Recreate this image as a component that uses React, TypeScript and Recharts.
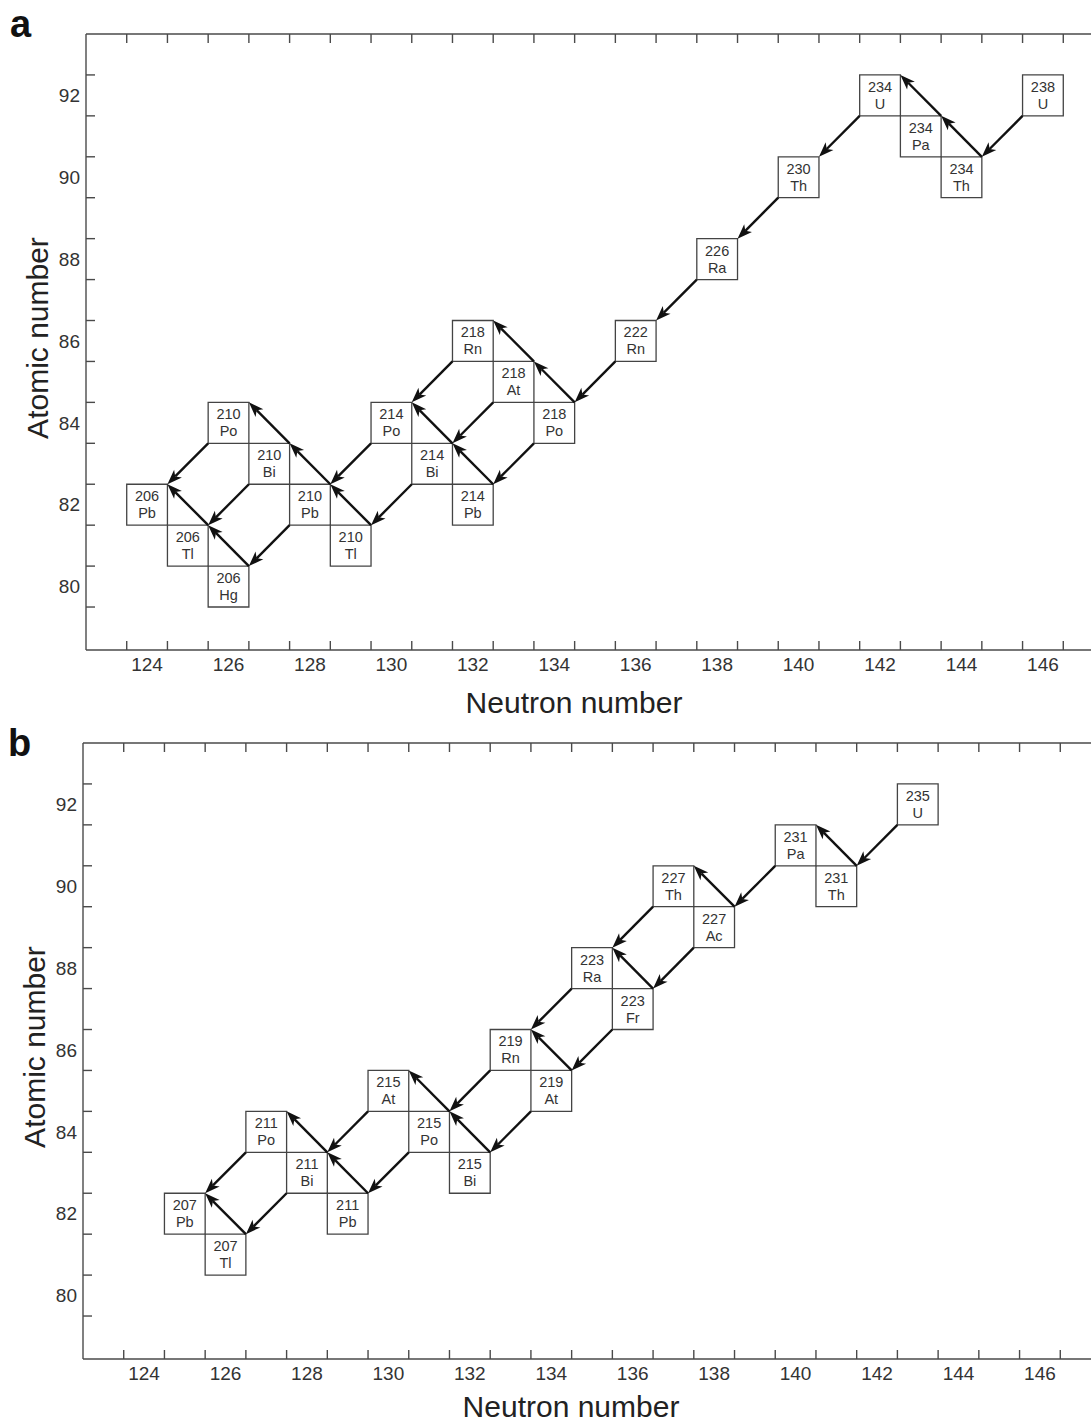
import React from 'react';
import { ScatterChart, Scatter, XAxis, YAxis, ReferenceArea, ReferenceLine, Label } from 'recharts';

// U-238 decay chain (panel a)
const uraniumChain = [
  { mass: 238, el: 'U', n: 146, z: 92 },
  { mass: 234, el: 'Th', n: 144, z: 90 },
  { mass: 234, el: 'Pa', n: 143, z: 91 },
  { mass: 234, el: 'U', n: 142, z: 92 },
  { mass: 230, el: 'Th', n: 140, z: 90 },
  { mass: 226, el: 'Ra', n: 138, z: 88 },
  { mass: 222, el: 'Rn', n: 136, z: 86 },
  { mass: 218, el: 'Po', n: 134, z: 84 },
  { mass: 218, el: 'At', n: 133, z: 85 },
  { mass: 218, el: 'Rn', n: 132, z: 86 },
  { mass: 214, el: 'Pb', n: 132, z: 82 },
  { mass: 214, el: 'Bi', n: 131, z: 83 },
  { mass: 214, el: 'Po', n: 130, z: 84 },
  { mass: 210, el: 'Tl', n: 129, z: 81 },
  { mass: 210, el: 'Pb', n: 128, z: 82 },
  { mass: 210, el: 'Bi', n: 127, z: 83 },
  { mass: 210, el: 'Po', n: 126, z: 84 },
  { mass: 206, el: 'Hg', n: 126, z: 80 },
  { mass: 206, el: 'Tl', n: 125, z: 81 },
  { mass: 206, el: 'Pb', n: 124, z: 82 },
];

// [parent, daughter, mode]  a = alpha, b = beta
const uraniumDecays = [
  ['238U', '234Th', 'a'], ['234Th', '234Pa', 'b'], ['234Pa', '234U', 'b'],
  ['234U', '230Th', 'a'], ['230Th', '226Ra', 'a'], ['226Ra', '222Rn', 'a'],
  ['222Rn', '218Po', 'a'], ['218Po', '214Pb', 'a'], ['218Po', '218At', 'b'],
  ['218At', '218Rn', 'b'], ['218At', '214Bi', 'a'], ['218Rn', '214Po', 'a'],
  ['214Pb', '214Bi', 'b'], ['214Bi', '214Po', 'b'], ['214Bi', '210Tl', 'a'],
  ['214Po', '210Pb', 'a'], ['210Tl', '210Pb', 'b'], ['210Pb', '210Bi', 'b'],
  ['210Pb', '206Hg', 'a'], ['210Bi', '210Po', 'b'], ['210Bi', '206Tl', 'a'],
  ['210Po', '206Pb', 'a'], ['206Hg', '206Tl', 'b'], ['206Tl', '206Pb', 'b'],
];

// U-235 decay chain (panel b)
const actiniumChain = [
  { mass: 235, el: 'U', n: 143, z: 92 },
  { mass: 231, el: 'Th', n: 141, z: 90 },
  { mass: 231, el: 'Pa', n: 140, z: 91 },
  { mass: 227, el: 'Ac', n: 138, z: 89 },
  { mass: 227, el: 'Th', n: 137, z: 90 },
  { mass: 223, el: 'Fr', n: 136, z: 87 },
  { mass: 223, el: 'Ra', n: 135, z: 88 },
  { mass: 219, el: 'At', n: 134, z: 85 },
  { mass: 219, el: 'Rn', n: 133, z: 86 },
  { mass: 215, el: 'Bi', n: 132, z: 83 },
  { mass: 215, el: 'Po', n: 131, z: 84 },
  { mass: 215, el: 'At', n: 130, z: 85 },
  { mass: 211, el: 'Pb', n: 129, z: 82 },
  { mass: 211, el: 'Bi', n: 128, z: 83 },
  { mass: 211, el: 'Po', n: 127, z: 84 },
  { mass: 207, el: 'Tl', n: 126, z: 81 },
  { mass: 207, el: 'Pb', n: 125, z: 82 },
];

const actiniumDecays = [
  ['235U', '231Th', 'a'], ['231Th', '231Pa', 'b'], ['231Pa', '227Ac', 'a'],
  ['227Ac', '227Th', 'b'], ['227Ac', '223Fr', 'a'], ['227Th', '223Ra', 'a'],
  ['223Fr', '223Ra', 'b'], ['223Fr', '219At', 'a'], ['223Ra', '219Rn', 'a'],
  ['219At', '219Rn', 'b'], ['219At', '215Bi', 'a'], ['219Rn', '215Po', 'a'],
  ['215Bi', '215Po', 'b'], ['215Po', '215At', 'b'], ['215Po', '211Pb', 'a'],
  ['215At', '211Bi', 'a'], ['211Pb', '211Bi', 'b'], ['211Bi', '211Po', 'b'],
  ['211Bi', '207Tl', 'a'], ['211Po', '207Pb', 'a'], ['207Tl', '207Pb', 'b'],
];

const xLabels = [124, 126, 128, 130, 132, 134, 136, 138, 140, 142, 144, 146];
const yLabels = [80, 82, 84, 86, 88, 90, 92];
// tick marks sit on the cell borders
const xTickMarks = Array.from({ length: 24 }, (_, i) => 123.5 + i);
const yTickMarks = Array.from({ length: 14 }, (_, i) => 79.5 + i);

const xAllTicks = [...xTickMarks, ...xLabels].sort((a, b) => a - b);
const yAllTicks = [...yTickMarks, ...yLabels].sort((a, b) => a - b);

const X_DOMAIN: [number, number] = [122.5, 147.5];
const Y_DOMAIN: [number, number] = [78.45, 93.5];

const FRAME = '#4a4a4a';
const INK = '#111';
const TICK = 9;

const isMark = (v: number) => v % 1 !== 0;

// bottom axis: inward mark on half values, label on integers
const BottomTick = (p: any) => {
  const { x, y, payload } = p;
  if (isMark(payload.value)) {
    return <line x1={x} y1={y} x2={x} y2={y - TICK} stroke={FRAME} strokeWidth={1.4} />;
  }
  return (
    <text x={x} y={y + 8} dy="0.71em" textAnchor="middle" fontSize={19} fill="#333">
      {payload.value}
    </text>
  );
};

const LeftTick = (p: any) => {
  const { x, y, payload } = p;
  if (isMark(payload.value)) {
    return <line x1={x} y1={y} x2={x + TICK} y2={y} stroke={FRAME} strokeWidth={1.4} />;
  }
  return (
    <text x={x - 6} y={y} dy="0.355em" textAnchor="end" fontSize={19} fill="#333">
      {payload.value}
    </text>
  );
};

// short inward mark hanging from the top frame
const TopMark = (p: any) => {
  const top = Math.min(p.y1, p.y2);
  return <line x1={p.x1} y1={top} x2={p.x1} y2={top + TICK} stroke={FRAME} strokeWidth={1.4} />;
};

// short inward mark on the right frame
const RightMark = (p: any) => {
  const right = Math.max(p.x1, p.x2);
  return <line x1={right} y1={p.y1} x2={right - TICK} y2={p.y1} stroke={FRAME} strokeWidth={1.4} />;
};

const Arrow = (p: any) => {
  const { x1, y1, x2, y2 } = p;
  const dx = x2 - x1;
  const dy = y2 - y1;
  const len = Math.hypot(dx, dy) || 1;
  const ux = dx / len;
  const uy = dy / len;
  const head = 15;
  const notch = 11;
  const half = 5.5;
  const hx = x2 - ux * head;
  const hy = y2 - uy * head;
  const bx = x2 - ux * notch;
  const by = y2 - uy * notch;
  const px = -uy;
  const py = ux;
  return (
    <g>
      <line x1={x1} y1={y1} x2={bx} y2={by} stroke={INK} strokeWidth={2.4} />
      <polygon
        points={`${x2},${y2} ${hx + px * half},${hy + py * half} ${bx},${by} ${hx - px * half},${hy - py * half}`}
        fill={INK}
      />
    </g>
  );
};

const IsotopeText = (props: any) => {
  const { cx, cy, payload } = props;
  return (
    <g>
      <text x={cx} y={cy - 8.5} textAnchor="middle" dominantBaseline="central" fontSize={14.5} fill="#333">
        {payload.mass}
      </text>
      <text x={cx} y={cy + 8.5} textAnchor="middle" dominantBaseline="central" fontSize={14.5} fill="#333">
        {payload.el}
      </text>
    </g>
  );
};

type Iso = { mass: number; el: string; n: number; z: number };

function DecayPanel({ isotopes, decays, titleDrop }: { isotopes: Iso[]; decays: string[][]; titleDrop: number }) {
  const byKey: Record<string, Iso> = {};
  isotopes.forEach((iso) => {
    byKey[`${iso.mass}${iso.el}`] = iso;
  });

  const frameAxis = { stroke: FRAME, strokeWidth: 1.4 };

  return (
    <ScatterChart width={1130} height={725} margin={{ top: 33, right: 25, bottom: 0, left: 0 }}>
      <XAxis
        xAxisId="lab"
        type="number"
        dataKey="n"
        domain={X_DOMAIN}
        allowDataOverflow
        ticks={xAllTicks}
        interval={0}
        axisLine={frameAxis}
        tickLine={false}
        tickSize={0}
        tickMargin={0}
        height={75}
        tick={BottomTick}
      >
        <Label
          content={(lp: any) => {
            const vb = lp.viewBox;
            return (
              <text x={vb.x + vb.width / 2 - 21} y={vb.y + titleDrop} textAnchor="middle" fontSize={30} fill="#222">
                Neutron number
              </text>
            );
          }}
        />
      </XAxis>
      <XAxis xAxisId="top" orientation="top" type="number" domain={X_DOMAIN} allowDataOverflow height={1}
        tick={false} tickLine={false} axisLine={frameAxis} />
      <YAxis
        yAxisId="lab"
        type="number"
        dataKey="z"
        domain={Y_DOMAIN}
        allowDataOverflow
        ticks={yAllTicks}
        interval={0}
        axisLine={frameAxis}
        tickLine={false}
        tickSize={0}
        tickMargin={0}
        width={86}
        tick={LeftTick}
      >
        <Label
          content={(lp: any) => {
            const vb = lp.viewBox;
            const cy = vb.y + vb.height / 2 - 4;
            return (
              <text
                transform={`translate(${vb.x + 37}, ${cy}) rotate(-90)`}
                textAnchor="middle"
                dominantBaseline="central"
                fontSize={30}
                fill="#222"
              >
                Atomic number
              </text>
            );
          }}
        />
      </YAxis>
      <YAxis yAxisId="right" orientation="right" type="number" domain={Y_DOMAIN} allowDataOverflow width={1}
        tick={false} tickLine={false} axisLine={frameAxis} />

      {xTickMarks.map((v) => (
        <ReferenceLine key={`tt-${v}`} xAxisId="lab" yAxisId="lab" x={v} ifOverflow="visible" shape={TopMark} />
      ))}
      {yTickMarks.map((v) => (
        <ReferenceLine key={`rt-${v}`} xAxisId="lab" yAxisId="lab" y={v} ifOverflow="visible" shape={RightMark} />
      ))}

      {isotopes.map((iso) => (
        <ReferenceArea
          key={`box-${iso.mass}${iso.el}`}
          xAxisId="lab"
          yAxisId="lab"
          x1={iso.n - 0.5}
          x2={iso.n + 0.5}
          y1={iso.z - 0.5}
          y2={iso.z + 0.5}
          fill="none"
          stroke="#444"
          strokeWidth={1.3}
          ifOverflow="visible"
        />
      ))}

      <Scatter data={isotopes} xAxisId="lab" yAxisId="lab" shape={IsotopeText} isAnimationActive={false} />

      {decays.map(([from, to, mode]) => {
        const p = byKey[from];
        const d = byKey[to];
        // alpha leaves the parent's lower-left corner, beta its upper-right one;
        // both land on the daughter's upper-right corner
        const start = mode === 'a' ? { x: p.n - 0.5, y: p.z - 0.5 } : { x: p.n + 0.5, y: p.z + 0.5 };
        const end = { x: d.n + 0.5, y: d.z + 0.5 };
        return (
          <ReferenceLine
            key={`arr-${from}-${to}`}
            xAxisId="lab"
            yAxisId="lab"
            segment={[start, end]}
            ifOverflow="visible"
            shape={Arrow}
          />
        );
      })}
    </ScatterChart>
  );
}

export default function App() {
  return (
    <div
      style={{
        position: 'absolute',
        left: 0,
        top: 0,
        width: 1091,
        height: 1425,
        overflow: 'hidden',
        background: '#fff',
        fontFamily: '"Liberation Sans", Arial, Helvetica, sans-serif',
      }}
    >
      <div style={{ position: 'absolute', left: 0, top: 0 }}>
        <DecayPanel isotopes={uraniumChain} decays={uraniumDecays} titleDrop={63} />
      </div>
      <div style={{ position: 'absolute', left: -3, top: 709 }}>
        <DecayPanel isotopes={actiniumChain} decays={actiniumDecays} titleDrop={58} />
      </div>
      <svg width={60} height={770} style={{ position: 'absolute', left: 0, top: 0 }}>
        <text x={10} y={37} fontSize={38} fontWeight="bold" fill="#111">a</text>
        <text x={8} y={756} fontSize={38} fontWeight="bold" fill="#111">b</text>
      </svg>
    </div>
  );
}
